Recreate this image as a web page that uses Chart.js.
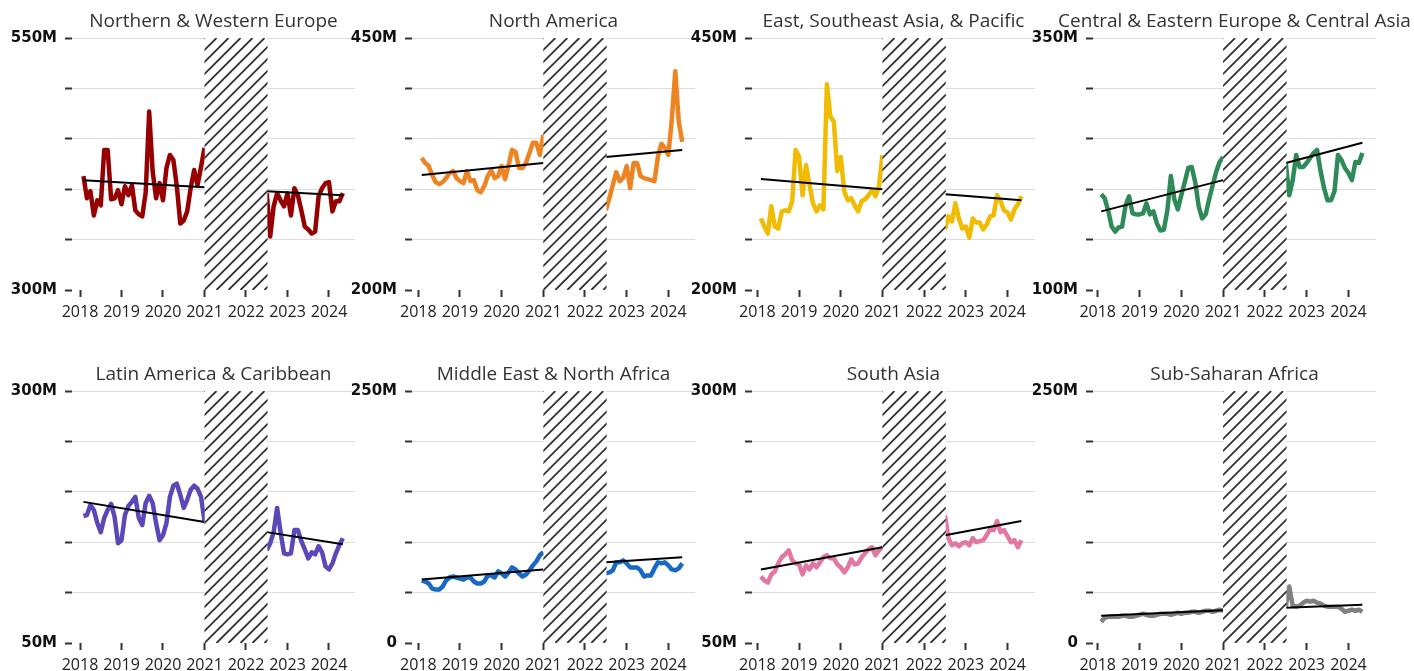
<!DOCTYPE html>
<html>
<head>
<meta charset="utf-8">
<script src="https://cdn.jsdelivr.net/npm/chart.js@4.4.1/dist/chart.umd.min.js"></script>
<style>
  html, body { margin: 0; padding: 0; background: #fff; overflow: hidden; }
  body { width: 1414px; height: 671px; position: relative; }
  canvas { position: absolute; }
</style>
</head>
<body>
<script>
// monthly values in millions; "pre" = Feb 2018 .. Jan 2021, "post" = Jul 2022 .. May 2024
const regionNames = [
  'Northern & Western Europe', 'North America', 'East, Southeast Asia, & Pacific',
  'Central & Eastern Europe & Central Asia', 'Latin America & Caribbean',
  'Middle East & North Africa', 'South Asia', 'Sub-Saharan Africa'
];
const lineColors = ['#960000', '#ee8322', '#f0bb00', '#2e8a57', '#5b48b8', '#1868c8', '#e377a3', '#808080'];
const yMins = [300, 200, 200, 100, 50, 0, 50, 0];
const yMaxs = [550, 450, 450, 350, 300, 250, 300, 250];
const yearTicks = [2018, 2019, 2020, 2021, 2022, 2023, 2024];
const gapStart = 2021.0;
const gapEnd = 2022.52;
const preFirstMonth = 2018 + 1 / 12;
const postFirstMonth = 2022.5;

const nwePre  = [413,391,398,374,389,384,439,439,390,391,399,385,403,394,404,379,375,373,397,477,418,391,406,389,421,434,429,403,366,369,378,401,419,404,422,441];
const nwePost = [396,353,383,396,389,383,396,374,401,394,379,363,360,356,358,393,401,406,407,378,388,388,396];
const naPre   = [331,326,323,314,307,305,307,311,316,318,311,308,306,318,308,309,299,297,303,313,319,311,313,323,310,324,339,337,321,321,326,336,346,346,334,354];
const naPost  = [279,291,304,317,308,311,323,301,326,326,313,311,310,309,308,332,345,341,334,369,417,367,347];
const esapPre = [271,263,256,283,263,261,278,279,278,288,339,332,294,324,304,286,278,284,280,404,372,367,318,332,298,289,291,284,278,288,290,294,299,293,303,334];
const esapPost= [260,273,268,286,271,261,263,252,271,267,267,260,265,273,274,294,288,279,277,270,280,285,293];
const ceePre  = [195,191,179,163,158,162,163,184,193,176,175,175,176,186,175,178,166,159,160,179,213,190,180,194,207,221,222,207,183,171,175,190,204,217,227,232];
const ceePost = [226,194,209,234,222,222,226,231,236,239,218,201,189,189,198,234,229,221,216,209,227,226,236];
const lacPre  = [176,177,187,182,169,160,174,182,188,175,149,152,177,186,190,195,174,167,189,196,189,169,152,157,169,195,206,208,197,184,192,202,206,203,195,171];
const lacPost = [142,149,160,184,160,139,138,139,162,162,151,143,134,140,138,146,140,126,123,129,139,147,154];
const menaPre = [62,61,59,54,53,53,56,62,65,66,65,64,63,65,65,61,59,59,61,67,67,65,71,69,66,70,75,73,69,66,68,72,77,81,87,90];
const menaPost= [69,70,72,80,80,82,79,75,75,75,72,66,67,67,74,80,79,80,77,73,72,74,79];
const saPre   = [116,112,110,118,121,129,135,138,142,132,129,128,118,127,123,129,125,130,135,137,134,134,128,125,120,125,133,128,129,135,139,143,145,137,142,145];
const saPost  = [177,154,147,149,146,149,150,147,154,150,151,152,157,163,162,171,160,162,156,150,152,145,152];
const ssaPre  = [21,25,26,26,26,26,27,27,26,26,27,28,29,28,27,27,28,29,29,29,28,29,30,29,30,30,31,31,30,31,32,32,31,32,33,32];
const ssaPost = [36,56,37,36,37,40,42,41,42,40,39,37,36,36,36,36,34,31,32,33,32,33,31];

const preSeries  = [nwePre, naPre, esapPre, ceePre, lacPre, menaPre, saPre, ssaPre];
const postSeries = [nwePost, naPost, esapPost, ceePost, lacPost, menaPost, saPost, ssaPost];

// trend line end values [start, end]
const trendPre  = [[409,402],[314,326],[310,300],[178,209],[190,170],[63,73],[123,145],[27,32.5]];
const trendPost = [[398,394],[332,339],[295,289],[226,246],[160,148],[80,85],[157,171],[35,38]];

// x axis range of each column
const colXMin = [2017.807, 2017.849, 2017.87, 2017.887];
const colXMax = [2024.627, 2024.640, 2024.66, 2024.66];
const colLeft = [72, 412, 752, 1093];
const rowTop = [38, 391];

const panelDecor = {
  id: 'panelDecor',
  afterDatasetsDraw(chart) {
    const { ctx, chartArea: a, scales: { x } } = chart;
    const x0 = x.getPixelForValue(gapStart);
    const x1 = x.getPixelForValue(gapEnd);
    const h = a.bottom - a.top;
    ctx.save();
    ctx.beginPath();
    ctx.rect(x0, a.top, x1 - x0, h);
    ctx.clip();
    ctx.fillStyle = '#fff';
    ctx.fillRect(x0, a.top, x1 - x0, h);
    ctx.strokeStyle = '#333';
    ctx.lineWidth = 1.8;
    ctx.beginPath();
    for (let k = x0 - h; k < x1 + 12; k += 12) {
      ctx.moveTo(k, a.bottom);
      ctx.lineTo(k + h, a.top);
    }
    ctx.stroke();
    ctx.restore();
  },
  afterDraw(chart, args, opts) {
    const { ctx, chartArea: a } = chart;
    ctx.save();
    ctx.font = '19px "Open Sans"';
    ctx.fillStyle = '#333';
    ctx.textAlign = 'center';
    ctx.textBaseline = 'alphabetic';
    ctx.fillText(opts.text, (a.left + a.right) / 2, a.top - 11);
    ctx.restore();
  }
};

regionNames.forEach((name, i) => {
  const col = i % 4, row = Math.floor(i / 4);
  const canvas = document.createElement('canvas');
  canvas.width = 395;
  canvas.height = 330;
  canvas.style.left = (colLeft[col] - 72) + 'px';
  canvas.style.top = (rowTop[row] - 38) + 'px';
  document.body.appendChild(canvas);

  const pre = preSeries[i].map((v, k) => ({ x: preFirstMonth + k / 12, y: v }));
  const post = postSeries[i].map((v, k) => ({ x: postFirstMonth + k / 12, y: v }));
  const trendA = [{ x: pre[0].x, y: trendPre[i][0] }, { x: pre[pre.length - 1].x, y: trendPre[i][1] }];
  const trendB = [{ x: post[0].x, y: trendPost[i][0] }, { x: post[post.length - 1].x, y: trendPost[i][1] }];
  const lo = yMins[i], hi = yMaxs[i];

  new Chart(canvas, {
    type: 'line',
    data: {
      datasets: [
        { data: trendA, borderColor: '#000', borderWidth: 2, pointRadius: 0, order: 0 },
        { data: trendB, borderColor: '#000', borderWidth: 2, pointRadius: 0, order: 0 },
        { data: pre, borderColor: lineColors[i], borderWidth: 4.5, pointRadius: 0, borderJoinStyle: 'round', order: 1 },
        { data: post, borderColor: lineColors[i], borderWidth: 4.5, pointRadius: 0, borderJoinStyle: 'round', order: 1 }
      ]
    },
    options: {
      responsive: false,
      animation: false,
      devicePixelRatio: 1,
      layout: { padding: { top: 38, right: 40, left: 0, bottom: 0 } },
      plugins: {
        legend: { display: false },
        tooltip: { enabled: false },
        panelDecor: { text: name }
      },
      scales: {
        x: {
          type: 'linear',
          min: colXMin[col],
          max: colXMax[col],
          afterFit: s => { s.height = 40; },
          afterBuildTicks: s => { s.ticks = yearTicks.map(v => ({ value: v })); },
          ticks: {
            autoSkip: false, maxRotation: 0, padding: 6,
            font: { family: 'Open Sans', size: 16 }, color: '#222',
            callback: v => String(v)
          },
          grid: { drawOnChartArea: false, drawTicks: true, tickLength: 7, tickWidth: 2, tickColor: '#333' },
          border: { display: false }
        },
        y: {
          min: lo,
          max: hi,
          afterFit: s => { s.width = 72; },
          ticks: {
            stepSize: 50, autoSkip: false, padding: 8,
            font: { family: 'DejaVu Sans', size: 15, weight: 'bold' }, color: '#111',
            callback: v => (v === lo || v === hi) ? (v === 0 ? '0' : v + 'M') : ''
          },
          grid: {
            color: c => (c.tick && c.tick.value === lo) ? 'rgba(0,0,0,0)' : '#dcdcdc',
            lineWidth: 1, tickLength: 7, tickWidth: 2, tickColor: '#333'
          },
          border: { display: false }
        }
      }
    },
    plugins: [panelDecor]
  });
});
</script>
</body>
</html>
